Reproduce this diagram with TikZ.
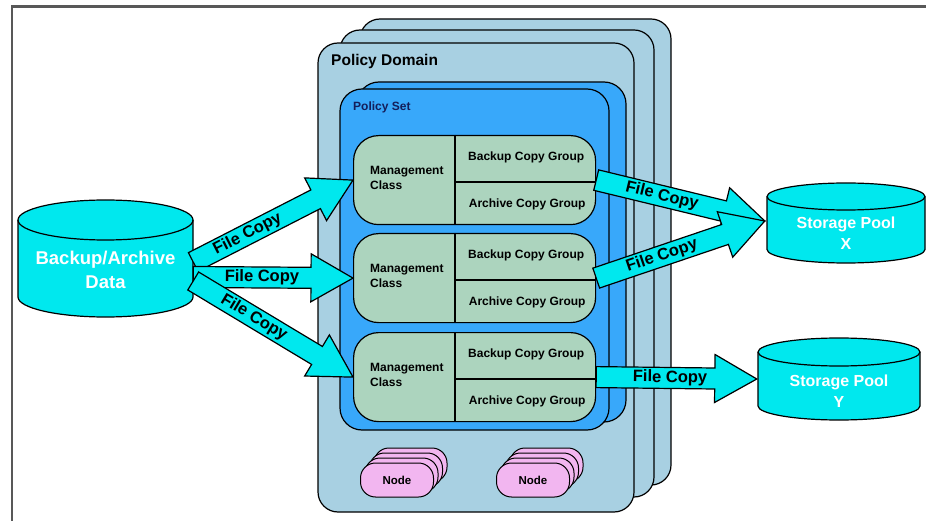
\documentclass[tikz,border=0pt]{standalone}
\usepackage{fontspec}
\setmainfont{Liberation Sans}
\usetikzlibrary{calc}
\definecolor{domainblue}{RGB}{168,208,226}
\definecolor{setblue}{RGB}{56,168,250}
\definecolor{classgreen}{RGB}{172,212,190}
\definecolor{copycyan}{RGB}{0,232,238}
\definecolor{nodepink}{RGB}{242,182,240}
\definecolor{framegray}{RGB}{88,88,88}
\definecolor{setnavy}{RGB}{20,30,90}
\tikzset{
  domainbox/.style={draw, line width=1.2pt, fill=domainblue, rounded corners=20pt},
  setbox/.style={draw, line width=1.2pt, fill=setblue, rounded corners=22pt},
  classbox/.style={draw, line width=1.2pt, fill=classgreen, rounded corners=25pt,
    minimum width=242pt, minimum height=89pt, inner sep=0pt},
  classtext/.style={inner sep=0pt, font=\bfseries\fontsize{12}{15}\selectfont},
  nodebox/.style={draw, line width=1pt, fill=nodepink, rounded corners=15pt,
    minimum width=73pt, minimum height=34pt, inner sep=0pt,
    font=\bfseries\fontsize{11.5}{13}\selectfont},
  pool/.style={draw, line width=1.2pt, fill=copycyan},
  pooltext/.style={text=white, align=center, inner sep=0pt,
    font=\bfseries\fontsize{16}{21}\selectfont},
  copyarrow/.style={draw, line width=1.2pt, fill=copycyan,
    to path={coordinate (ca-b) at ($(\tikztotarget)!42pt!(\tikztostart)$)
      ($(\tikztostart)!10.5pt!90:(\tikztotarget)$)
      -- ($(ca-b)!10.5pt!90:(\tikztotarget)$)
      -- ($(ca-b)!24pt!90:(\tikztotarget)$)
      -- (\tikztotarget)
      -- ($(ca-b)!24pt!-90:(\tikztotarget)$)
      -- ($(ca-b)!10.5pt!-90:(\tikztotarget)$)
      -- ($(\tikztostart)!10.5pt!-90:(\tikztotarget)$) -- cycle}},
  copylabel/.style={sloped, inner sep=0pt, font=\bfseries\fontsize{16.5}{19}\selectfont},
}
\begin{document}
\begin{tikzpicture}[x=1pt,y=1pt]
\useasboundingbox (0,0) rectangle (926,-521);
\draw[framegray, line width=2.5pt] (12,-521) -- (12,-6.5) -- (926,-6.5);
% policy domains
\draw[domainbox] (360,-19) rectangle (671,-485);
\draw[domainbox] (340,-30) rectangle (654,-497);
\draw[domainbox] (318,-43) rectangle (634,-512);
\node[anchor=base west, inner sep=0pt, font=\bfseries\fontsize{15.5}{18}\selectfont] (domain) at (331,-66) {Policy Domain};
% policy sets
\draw[setbox] (357,-82) rectangle (626,-422);
\draw[setbox] (340,-89) rectangle (609,-430);
\node[anchor=base west, inner sep=0pt, text=setnavy, font=\bfseries\fontsize{12}{14}\selectfont] (set) at (353,-111) {Policy Set};
% management classes
\foreach \i/\y in {1/135,2/233,3/332}{
  \node[classbox, anchor=north west] (mc\i) at (353,-\y) {};
  \draw[line width=1.2pt] ($(mc\i.north west)+(102,0)$) -- ($(mc\i.south west)+(102,0)$);
  \draw[line width=1.2pt] ($(mc\i.north west)+(102,-47)$) -- ($(mc\i.north east)+(0,-47)$);
  \node[classtext, anchor=west, align=left] (mcname\i) at ($(mc\i.west)+(17,2)$) {Management\\Class};
  \node[classtext] (backup\i) at ($(mc\i.north east)+(-70,-22.5)$) {Backup Copy Group};
  \node[classtext] (archive\i) at ($(mc\i.south east)+(-69,20.5)$) {Archive Copy Group};
}
% client nodes
\foreach \x/\n in {397/1,533/2}{
  \foreach \k in {3,2,1}
    \node[nodebox] (node\n-\k) at ({\x+4.5*\k},{-480+5*\k}) {};
  \node[nodebox] (node\n) at (\x,-480) {Node};
}
% storage
\foreach \cx/\t/\rx/\ry/\b in {105.5/200/87.5/20/317, 846/183/79/13.5/263, 839/338/81/14/420}{
  \draw[pool] ({\cx-\rx},{-\t-\ry}) -- ({\cx-\rx},{-\b+\ry})
    arc[start angle=180, end angle=360, x radius=\rx, y radius=\ry]
    -- ({\cx+\rx},{-\t-\ry})
    arc[start angle=0, end angle=180, x radius=\rx, y radius=\ry] -- cycle;
  \draw[line width=1.2pt] ({\cx-\rx},{-\t-\ry})
    arc[start angle=180, end angle=360, x radius=\rx, y radius=\ry];
}
\node[pooltext, minimum width=175pt, font=\bfseries\fontsize{18.5}{24}\selectfont] (bad) at (105.5,-270) {Backup/Archive\\Data};
\node[pooltext, minimum width=158pt] (spx) at (846,-233) {Storage Pool\\X};
\node[pooltext, minimum width=162pt] (spy) at (839,-391) {Storage Pool\\Y};
% file copies
\coordinate (bad-a) at ($(bad.east)+(0,8)$);
\coordinate (bad-b) at ($(bad.east)+(0,-7)$);
\coordinate (bad-c) at ($(bad.east)+(0,-11)$);
\coordinate (spx-in) at ($(spx.west)+(-2,12)$);
\coordinate (spy-in) at ($(spy.west)+(-1,12)$);
\draw[copyarrow] (bad-a) to (mc1.west);
\draw[copyarrow] (bad-b) to (mc2.west);
\draw[copyarrow] (bad-c) to (mc3.west);
\draw[copyarrow] (mc1.east) to (spx-in);
\draw[copyarrow] (mc2.east) to (spx-in);
\draw[copyarrow] (mc3.east) to (spy-in);
\path (bad-a) -- (mc1.west) node[copylabel, pos=0.34] (copy1) {File Copy};
\path (bad-b) -- (mc2.west) node[copylabel, pos=0.43] (copy2) {File Copy};
\path (bad-c) -- (mc3.west) node[copylabel, pos=0.38] (copy3) {File Copy};
\path (mc1.east) -- (spx-in) node[copylabel, pos=0.39] (copy4) {File Copy};
\path (mc2.east) -- (spx-in) node[copylabel, pos=0.39] (copy5) {File Copy};
\path (mc3.east) -- (spy-in) node[copylabel, pos=0.46] (copy6) {File Copy};
\end{tikzpicture}
\end{document}
